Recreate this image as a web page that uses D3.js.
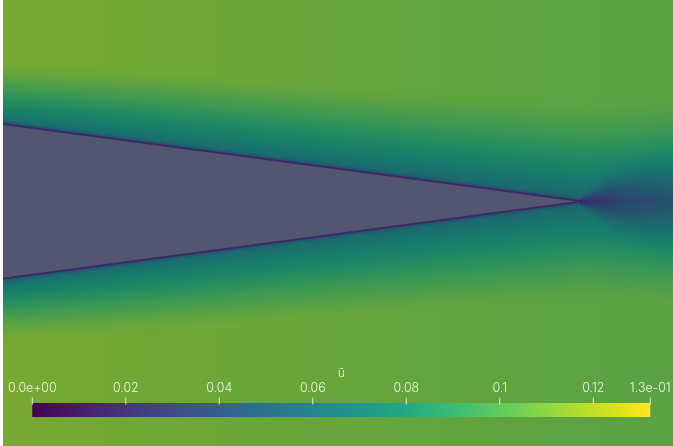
<!DOCTYPE html>
<html><head><meta charset="utf-8">
<script src="https://cdn.jsdelivr.net/npm/d3@7"></script>
<style>
html,body{margin:0;padding:0;background:#fff;}
#view{position:relative;width:673px;height:446px;overflow:hidden;}
#view canvas,#view svg{position:absolute;left:0;top:0;}
.lbl{font-family:Inter,'Liberation Sans',Arial,sans-serif;font-size:12.4px;font-weight:300;font-variant-numeric:proportional-nums;}
</style></head><body><div id="view"></div>
<script>
// Wedge outline in chord units (the leading part runs off the left of the view)
const wedge = [[0, 0.1335], [1, 0], [0, -0.1335]];

// Streamwise stations (chord units) and quantities sampled at them
const stations       = [0, 0.25, 0.58, 1.0, 1.16];
const freeStream     = [0.112, 0.110, 0.1075, 0.105, 0.1045]; // ū outside the boundary layer
const layerThickness = [0.108, 0.128, 0.144, 0.170, 0.178];   // boundary-layer thickness

// Wake behind the trailing edge: distance downstream, centreline deficit, half-width
const wakeStations = [0, 0.01, 0.026, 0.07, 0.16];
const wakeDeficit  = [0.5, 0.62, 0.55, 0.38, 0.22];
const wakeWidth    = [0.004, 0.007, 0.012, 0.028, 0.045];

// Colour bar
const uMin = 0, uMax = 0.1322;
const tickValues = [0, 0.02, 0.04, 0.06, 0.08, 0.1, 0.12, 0.1322];
const tickLabels = ["0.0e+00", "0.02", "0.04", "0.06", "0.08", "0.1", "0.12", "1.3e-01"];
const title = "ū";

// Velocity profile shape
const nearWall = 0.55;     // ū/Ue just outside the viscous sublayer
const sublayer = 0.0026;   // sublayer length scale (chord units)
const shapeExp = 1.4;
const shade = 0.78;        // surface lighting applied to the field colours

const W = 673, H = 446;
const x = d3.scaleLinear().domain([0, 1]).range([3, 580]);
const y = d3.scaleLinear().domain([0.1335, -0.1335]).range([124.3, 278.3]);

const ue    = d3.scaleLinear().domain(stations).range(freeStream).clamp(true);
const delta = d3.scaleLinear().domain(stations).range(layerThickness).clamp(true);
const wA    = d3.scaleLinear().domain(wakeStations).range(wakeDeficit).clamp(true);
const wS    = d3.scaleLinear().domain(wakeStations).range(wakeWidth).clamp(true);
const color = d3.scaleSequential(d3.interpolateViridis).domain([uMin, uMax]);

const tip = wedge[1];
// wall segments, extended upstream beyond the view
const upperWall = [[2 * wedge[0][0] - tip[0], 2 * wedge[0][1] - tip[1]], tip];
const lowerWall = [[2 * wedge[2][0] - tip[0], 2 * wedge[2][1] - tip[1]], tip];

function segDist(px, py, s) {
  const ax = s[0][0], ay = s[0][1], bx = s[1][0], by = s[1][1];
  const dx = bx - ax, dy = by - ay;
  let t = ((px - ax) * dx + (py - ay) * dy) / (dx * dx + dy * dy);
  t = Math.max(0, Math.min(1, t));
  const qx = ax + t * dx - px, qy = ay + t * dy - py;
  return Math.sqrt(qx * qx + qy * qy);
}

function halfWidth(X) { return wedge[0][1] * (tip[0] - X) / (tip[0] - wedge[0][0]); }

function uBar(X, Y) {
  if (X <= tip[0] && Math.abs(Y) <= halfWidth(X)) return 0;
  const ds = Math.min(segDist(X, Y, upperWall), segDist(X, Y, lowerWall));
  const dProf = X <= tip[0] ? ds : Math.abs(Y);
  const eta = dProf / delta(X);
  const g = eta >= 1 ? 1 : 1 - Math.pow(1 - eta, shapeExp);
  let f = (nearWall + (1 - nearWall) * g) * (1 - Math.exp(-ds / sublayer));
  if (X > tip[0]) {
    const s = wS(X - tip[0]);
    f *= 1 - wA(X - tip[0]) * Math.exp(-(Y * Y) / (2 * s * s));
  }
  return ue(X) * f;
}

// colour lookup table
const N = 1024, lut = [];
for (let i = 0; i < N; i++) {
  const c = d3.rgb(color(uMin + (uMax - uMin) * i / (N - 1)));
  lut.push([c.r * shade, c.g * shade, c.b * shade]);
}

const view = d3.select("#view");
const canvas = view.append("canvas").attr("width", W).attr("height", H).node();
const ctx = canvas.getContext("2d");
const img = ctx.createImageData(W, H);
const x0 = Math.ceil(x(0));
for (let j = 0; j < H; j++) {
  const Y = y.invert(j + 0.5);
  for (let i = 0; i < W; i++) {
    const k = (j * W + i) * 4;
    if (i < x0) { img.data[k] = img.data[k + 1] = img.data[k + 2] = 255; img.data[k + 3] = 255; continue; }
    const X = x.invert(i + 0.5);
    const u = uBar(X, Y);
    const idx = Math.max(0, Math.min(N - 1, Math.round((u - uMin) / (uMax - uMin) * (N - 1))));
    const c = lut[idx];
    img.data[k] = c[0]; img.data[k + 1] = c[1]; img.data[k + 2] = c[2]; img.data[k + 3] = 255;
  }
}
ctx.putImageData(img, 0, 0);

const svg = view.append("svg").attr("width", W).attr("height", H);
const line = d3.line().x(d => x(d[0])).y(d => y(d[1]));

// wedge body and its two walls
svg.append("path")
  .attr("d", line(wedge) + "Z")
  .attr("fill", "#525670");
svg.append("path")
  .attr("d", line(wedge))
  .attr("fill", "none")
  .attr("stroke", "#3e2a66")
  .attr("stroke-width", 1.3)
  .attr("stroke-linejoin", "miter");

// colour bar
const cb = d3.scaleLinear().domain([uMin, uMax]).range([32.3, 650.3]);
const grad = svg.append("defs").append("linearGradient").attr("id", "cbar")
  .attr("x1", "0%").attr("x2", "100%").attr("y1", "0%").attr("y2", "0%");
d3.range(0, 1.0001, 0.05).forEach(t => {
  grad.append("stop").attr("offset", (t * 100) + "%").attr("stop-color", color(uMin + t * (uMax - uMin)));
});
svg.append("rect")
  .attr("x", cb(uMin)).attr("y", 403)
  .attr("width", cb(uMax) - cb(uMin)).attr("height", 14)
  .attr("fill", "url(#cbar)");

const ticks = svg.append("g");
ticks.selectAll("line").data(tickValues).join("line")
  .attr("x1", d => cb(d)).attr("x2", d => cb(d))
  .attr("y1", 397.5).attr("y2", 404.5)
  .attr("stroke", "#e6e9e0").attr("stroke-width", 1);
ticks.selectAll("text").data(tickValues).join("text")
  .attr("class", "lbl")
  .attr("x", d => cb(d)).attr("y", 392)
  .attr("text-anchor", "middle")
  .attr("fill", "#f2f4ee")
  .text((d, i) => tickLabels[i]);

svg.append("text")
  .attr("class", "lbl")
  .attr("x", (cb(uMin) + cb(uMax)) / 2).attr("y", 376.6)
  .attr("text-anchor", "middle")
  .attr("fill", "#f2f4ee")
  .text(title);
</script>
</body></html>
